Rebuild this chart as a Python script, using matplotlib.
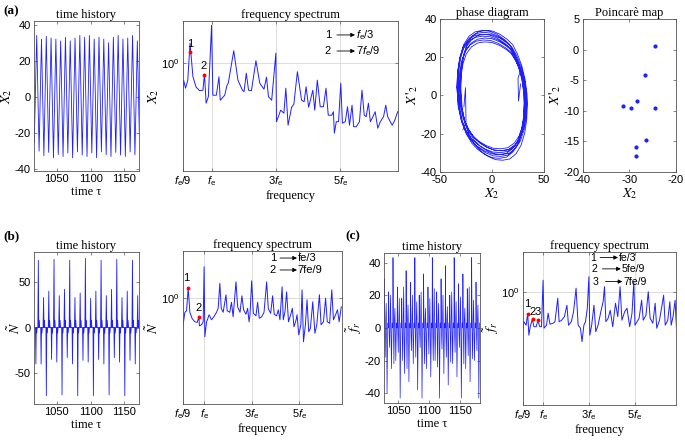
import numpy as np
import matplotlib
matplotlib.use("Agg")
import matplotlib.pyplot as plt

# === DATA ===
# (a) time history of X2 : peak / trough of each cycle
t0_a, period_a = 1020.0, 7.12
x2_peaks = [34, 32, 33.5, 32.6, 32, 31, 33, 31, 32.6, 34, 33, 34, 32, 33, 32, 30, 33, 34, 32, 32.6, 34, 31]
x2_troughs = [-30, -32.6, -30.7, -33.7, -31.9, -33, -31, -33.7, -30.4, -32.2, -33, -31,
              -33.7, -30.4, -32, -33, -30.7, -32.2, -33, -30.4, -32, -30.7]

# (a) spectrum of X2 (frequency in units of fe, log10 amplitude)
spec_a_f = [0.11, 0.13, 0.19, 0.26, 0.33, 0.42, 0.52, 0.63, 0.73, 0.78, 0.83, 0.90, 1.0, 1.04, 1.15,
            1.23, 1.27, 1.41, 1.48, 1.52, 1.69, 1.82, 1.96, 2.01, 2.08, 2.15, 2.24, 2.38, 2.5, 2.63,
            2.71, 2.77, 2.87, 3.0, 3.02, 3.15, 3.25, 3.31, 3.38, 3.49, 3.56, 3.67, 3.80, 3.88, 3.94,
            4.02, 4.15, 4.21, 4.29, 4.38, 4.48, 4.56, 4.63, 4.74, 4.79, 4.82, 4.88, 4.95, 5.02, 5.07,
            5.16, 5.23, 5.29, 5.37, 5.42, 5.5, 5.6, 5.68, 5.75, 5.81, 5.88, 5.94, 6.02, 6.09, 6.17,
            6.25, 6.35, 6.42, 6.48, 6.56, 6.62, 6.70, 6.79]
spec_a_lg = [-0.53, -0.35, -0.51, -0.35, 0.39, -0.28, -0.49, -0.56, -0.55, -0.23, -0.81, -0.68, 0.75,
             -0.65, -0.65, -0.28, -0.75, -0.65, -0.45, -0.41, 0.24, -0.35, -0.55, -0.58, -0.21, -0.55,
             -0.56, 0.04, -0.41, -0.53, -0.29, -0.68, -0.75, 0.19, -1.18, -0.95, -1.01, -0.51, -1.25,
             -0.89, -0.83, -0.18, -0.75, -0.78, -0.48, -0.89, -0.55, -0.95, -0.35, -0.88, -0.88, -0.51,
             -1.05, -1.05, -0.98, -1.41, -1.18, -1.18, -0.41, -1.21, -1.18, -0.88, -1.25, -0.85, -1.28,
             -1.28, -1.18, -0.55, -1.05, -1.08, -0.81, -1.18, -1.08, -0.98, -1.31, -1.18, -1.08, -0.85,
             -1.08, -1.18, -1.25, -1.15, -0.98]
mark_a_f = [1 / 3, 7 / 9]
mark_a_lg = [0.22, -0.25]

# phase diagram : one closed loop shape (normalised) and the velocity range of 9 loops
loop_u = [-1.00, -0.98, -0.92, -0.82, -0.66, -0.47, -0.26, -0.04, 0.18, 0.40, 0.56, 0.70, 0.83, 0.93,
          0.99, 1.00, 0.98, 0.92, 0.81, 0.66, 0.47, 0.26, 0.04, -0.18, -0.40, -0.58, -0.74, -0.87,
          -0.96, -1.00]
loop_v = [0.12, 0.38, 0.60, 0.78, 0.91, 0.98, 1.00, 0.99, 0.94, 0.86, 0.78, 0.64, 0.46, 0.25, 0.02,
          -0.15, -0.38, -0.58, -0.77, -0.90, -0.98, -1.00, -0.99, -0.94, -0.86, -0.76, -0.62, -0.44,
          -0.20, 0.12]
vel_top = [34, 33, 32, 31, 29, 34, 30, 32, 28]
vel_bot = [-34, -32, -31, -30, -28, -33, -29, -31, -29]
kink1_x, kink1_y = [28, 25, 25.5, 27.5], [14, 9, -3, 6]
kink2_x, kink2_y = [-28, -25, -25.5, -27], [-18, -14, 4, -6]

# Poincare map
poin_x = [-24.5, -26.6, -28.3, -31.4, -29.6, -24.6, -26.4, -28.5, -28.6]
poin_y = [0.5, -4.1, -8.5, -9.2, -9.6, -9.6, -14.8, -16.0, -17.4]

# (b) mesh force N : spike up / spike down per cycle
t0_b, period_b = 1013.9, 7.77
n_up = [8, 74, 33, 40, 75, 35, 42, 74, 33, 38, 76, 32, 40, 74, 35, 42, 75, 33, 40, 74, 35]
n_dn = [-40, -40, -75, -35, -38, -74, -33, -40, -75, -36, -38, -75, -35, -40, -74, -33, -38, -75,
        -36, -40, -74]
frac_b = [0.0, 0.10, 0.18, 0.26, 0.34, 0.55, 0.63, 0.71, 0.79, 0.87]
bump_b = [8, -6]

spec_b_f = [0.115, 0.19, 0.26, 0.33, 0.40, 0.50, 0.61, 0.71, 0.78, 0.80, 0.89, 0.96, 1.0, 1.03, 1.10,
            1.21, 1.31, 1.41, 1.52, 1.59, 1.66, 1.72, 1.80, 1.92, 1.97, 2.08, 2.15, 2.22, 2.34, 2.41,
            2.51, 2.59, 2.66, 2.76, 2.83, 2.89, 2.93, 3.0, 3.07, 3.18, 3.25, 3.32, 3.42, 3.52, 3.63,
            3.70, 3.80, 3.88, 3.95, 4.05, 4.12, 4.19, 4.28, 4.33, 4.40, 4.47, 4.55, 4.64, 4.71, 4.78,
            4.87, 4.91, 4.98, 5.07, 5.12, 5.18, 5.26, 5.33, 5.40, 5.47, 5.57, 5.66, 5.74, 5.85, 5.92,
            6.02, 6.11, 6.18, 6.28, 6.37, 6.44, 6.53, 6.61, 6.68, 6.77]
spec_b_lg = [-0.53, -0.28, -0.25, 0.21, -0.28, -0.41, -0.47, -0.48, -0.37, -0.55, -0.53, -0.47, 0.63,
             -0.77, -0.48, -0.33, -0.43, -0.37, -0.28, -0.20, 0.30, -0.20, -0.28, 0.07, -0.25, -0.28,
             -0.08, -0.37, 0.33, -0.17, -0.28, 0.05, -0.23, -0.32, -0.20, -0.47, -0.33, 0.35, -0.30,
             -0.35, -0.08, -0.40, -0.37, -0.28, 0.33, -0.21, -0.30, 0.05, -0.32, -0.35, -0.23, -0.43,
             0.23, -0.43, -0.27, 0.13, -0.47, -0.33, -0.20, -0.57, -0.43, -0.33, -0.73, -0.53, 0.17,
             -0.87, -0.53, -0.03, -0.67, -0.60, -0.07, -0.70, -0.53, 0.07, -0.53, -0.47, 0.0, -0.47,
             -0.50, 0.17, -0.43, -0.33, -0.23, -0.47, -0.17]
mark_b_f = [1 / 3, 7 / 9]
mark_b_lg = [0.21, -0.37]

# (c) friction force fr : big / medium excursions per cycle
t0_c, period_c = 1027.0, 7.1
fr_p = [30, 22, 43, 25, 18, 35, 28, 43, 20, 33, 25, 43, 22, 30, 38, 20, 43, 27, 33, 24, 43, 28]
fr_n = [-40, -25, -20, -43, -28, -33, -22, -38, -43, -25, -30, -20, -43, -28, -35, -22, -30, -43,
        -25, -33, -20, -43]
fr_q = [15, 20, 12, 18, 25, 14, 20, 16, 22, 12, 18, 24, 15, 20, 13, 22, 16, 19, 12, 25, 17, 14]
fr_m = [-18, -12, -22, -15, -20, -25, -14, -18, -12, -22, -16, -20, -24, -13, -18, -21, -15, -12,
        -22, -17, -19, -14]
frac_c = [0.0, 0.06, 0.16, 0.27, 0.38, 0.50, 0.61, 0.70, 0.85]
core_c = [-3, 4, -4, 3]

spec_c_f = [0.11, 0.16, 0.26, 0.33, 0.38, 0.44, 0.53, 0.60, 0.70, 0.78, 0.85, 0.93, 1.0, 1.04, 1.15,
            1.22, 1.30, 1.44, 1.52, 1.64, 1.70, 1.81, 1.93, 2.04, 2.11, 2.23, 2.33, 2.44, 2.53, 2.63,
            2.70, 2.78, 2.85, 2.93, 3.0, 3.04, 3.12, 3.22, 3.30, 3.40, 3.52, 3.62, 3.68, 3.74, 3.84,
            3.93, 4.04, 4.16, 4.26, 4.36, 4.44, 4.56, 4.66, 4.78, 4.88, 4.96, 5.01, 5.10, 5.19, 5.30,
            5.37, 5.49, 5.59, 5.67, 5.79, 5.89, 5.96, 6.08, 6.19, 6.26, 6.33, 6.44, 6.53, 6.59, 6.67,
            6.76, 6.82]
spec_c_lg = [-0.79, -0.60, -0.67, -0.44, -0.87, -0.70, -0.55, -0.70, -0.70, -0.57, -0.70, -0.70, 0.23,
             -0.73, -0.67, -0.43, -0.65, -0.63, -0.60, -0.13, -0.60, -0.57, -0.50, -0.27, -0.67, -0.60,
             -0.40, 0.07, -0.67, -0.73, -1.0, -0.67, -0.60, -0.33, 0.30, -0.87, -0.67, -0.27, -0.80,
             -0.67, -0.40, -0.20, 0.10, -0.60, -0.53, -0.37, -0.70, -0.23, -0.50, 0.10, -0.57, -0.40,
             -0.33, -0.70, -0.43, 0.20, -0.67, -0.60, -0.53, -0.17, -0.57, -0.47, 0.0, -0.53, -0.63,
             -0.23, -0.73, -0.57, -0.27, -0.07, -0.67, -0.57, -0.20, -0.67, -0.50, -0.17, -0.73]
mark_c_f = [1 / 3, 5 / 9, 7 / 9]
mark_c_lg = [-0.44, -0.55, -0.57]

freq_ticks = [1 / 9, 1, 3, 5]
freq_labels = [r'$f_\mathrm{e}$/9', r'$f_\mathrm{e}$', r'3$f_\mathrm{e}$', r'5$f_\mathrm{e}$']

# === STYLE ===
plt.rcParams['font.family'] = 'Liberation Sans'
plt.rcParams['mathtext.fontset'] = 'custom'
plt.rcParams['mathtext.rm'] = 'Liberation Sans'
plt.rcParams['mathtext.it'] = 'Liberation Sans:italic'
plt.rcParams['font.size'] = 8
plt.rcParams['axes.unicode_minus'] = False
plt.rcParams['axes.linewidth'] = 0.6
plt.rcParams['axes.edgecolor'] = '#555555'
for a in ('xtick', 'ytick'):
    plt.rcParams[a + '.direction'] = 'in'
    plt.rcParams[a + '.major.size'] = 2.5
    plt.rcParams[a + '.major.width'] = 0.5
    plt.rcParams[a + '.major.pad'] = 2.5
    plt.rcParams[a + '.color'] = '#555555'
    plt.rcParams[a + '.labelcolor'] = 'black'
    plt.rcParams[a + '.labelsize'] = 8
plt.rcParams['xtick.top'] = True
plt.rcParams['ytick.right'] = True

BLUE = '#1f1fff'
SERIF = 'Liberation Serif'
W, H = 685, 445


def box(x0, y0, x1, y1):
    return [x0 / W, 1 - y1 / H, (x1 - x0) / W, (y1 - y0) / H]


fig = plt.figure(figsize=(6.85, 4.45), dpi=100)


def titled(ax, title, xlabel, ylabel):
    ax.set_title(title, family=SERIF, fontsize=9, pad=2)
    ax.set_xlabel(xlabel, family=SERIF, fontsize=9, labelpad=1)
    ax.set_ylabel(ylabel, math_fontfamily='stix', fontsize=10, labelpad=0)


def time_axis(ax, t, v, xlim, ylim, yticks, ylabel, lw=0.6):
    ax.plot(t, v, color=BLUE, lw=lw)
    ax.set_xlim(*xlim)
    ax.set_ylim(*ylim)
    ax.set_xticks([1050, 1100, 1150])
    ax.set_yticks(yticks)
    titled(ax, 'time history', 'time \u03c4', ylabel)


def spectrum_axis(ax, f, lg, mf, mlg, ylim_lg, ylabel):
    ax.plot(f, 10 ** np.array(lg), color=BLUE, lw=0.7)
    ax.plot(mf, 10 ** np.array(mlg), 'o', color='red', ms=1.8)
    ax.set_yscale('log')
    ax.set_xlim(1 / 9, 6.8)
    ax.set_ylim(10 ** ylim_lg[0], 10 ** ylim_lg[1])
    ax.set_xticks(freq_ticks, labels=freq_labels)
    ax.set_yticks([1], labels=[r'$10^0$'])
    ax.yaxis.set_minor_locator(matplotlib.ticker.NullLocator())
    ax.grid(True, color='#d8d8d8', lw=0.6)
    ax.set_axisbelow(True)
    titled(ax, 'frequency spectrum', 'frequency', ylabel)


def legend_rows(ax, rows, size=8):
    for num, x_num, x0, x1, y, txt in rows:
        ax.text(x_num, y, num, transform=ax.transAxes, ha='center', va='center', fontsize=size)
        ax.annotate('', xy=(x1, y), xytext=(x0, y), xycoords='axes fraction',
                    arrowprops=dict(arrowstyle='-|>', color='black', lw=0.6,
                                    mutation_scale=6, shrinkA=0, shrinkB=0))
        ax.text(x1 + 0.005, y, txt, transform=ax.transAxes, ha='left', va='center', fontsize=size)


# ---- (a) time history
t_a, v_a = [t0_a - period_a / 2], [-25]
for k, (p, q) in enumerate(zip(x2_peaks, x2_troughs)):
    t_a += [t0_a + k * period_a, t0_a + (k + 0.5) * period_a]
    v_a += [p, q]
ax = fig.add_axes(box(34, 21, 139, 171))
time_axis(ax, t_a, v_a, (1016, 1172), (-41, 42), [-40, -20, 0, 20, 40], r'$X_2$')

# ---- (a) spectrum
ax = fig.add_axes(box(183, 21, 398, 171))
spectrum_axis(ax, spec_a_f, spec_a_lg, mark_a_f, mark_a_lg, (-2.166, 0.834), r'$X_2$')
ax.text(0.33, 10 ** 0.37, '1', ha='center', va='center')
ax.text(0.76, 10 ** -0.07, '2', ha='center', va='center')
legend_rows(ax, [('1', 0.674, 0.716, 0.80, 0.907, r'$f_\mathrm{e}$/3'),
                 ('2', 0.674, 0.716, 0.80, 0.80, r'7$f_\mathrm{e}$/9')])

# ---- phase diagram
ax = fig.add_axes(box(440, 19, 544, 171.7))
u = np.array(loop_u)
v = np.array(loop_v)
px, py = [], []
for k in range(len(vel_top)):
    lo, hi = x2_troughs[k], x2_peaks[k]
    px += list(lo + (u + 1) / 2 * (hi - lo))
    py += list(vel_bot[k] + (v + 1) / 2 * (vel_top[k] - vel_bot[k]))
ax.plot(px, py, color=BLUE, lw=0.6)
ax.plot(kink1_x, kink1_y, color=BLUE, lw=0.6)
ax.plot(kink2_x, kink2_y, color=BLUE, lw=0.6)
ax.set_xlim(-50, 50)
ax.set_ylim(-40, 40)
ax.set_xticks([-50, 0, 50])
ax.set_yticks([-40, -20, 0, 20, 40])
ax.set_title('phase diagram', family=SERIF, fontsize=9, pad=2)
ax.set_xlabel(r'$X_2$', math_fontfamily='stix', fontsize=10, labelpad=1)
ax.set_ylabel(r"$X\,'_2$", math_fontfamily='stix', fontsize=10, labelpad=0)

# ---- Poincare map
ax = fig.add_axes(box(582.7, 19, 676, 171.7))
ax.plot(poin_x, poin_y, 'o', color=BLUE, ms=2)
ax.set_xlim(-40, -20)
ax.set_ylim(-20, 5)
ax.set_xticks([-40, -30, -20])
ax.set_yticks([-20, -15, -10, -5, 0, 5])
ax.set_title('Poincar\u00e8 map', family=SERIF, fontsize=9, pad=2)
ax.set_xlabel(r'$X_2$', math_fontfamily='stix', fontsize=10, labelpad=1)
ax.set_ylabel(r"$X\,'_2$", math_fontfamily='stix', fontsize=10, labelpad=0)

# ---- (b) time history
t_b, v_b = [], []
for k, (p, q) in enumerate(zip(n_up, n_dn)):
    vals = [0, p, 0, bump_b[0], 0, 0, q, 0, bump_b[1], 0]
    t_b += [t0_b + (k + fr) * period_b for fr in frac_b]
    v_b += vals
ax = fig.add_axes(box(34, 252, 139, 404))
time_axis(ax, t_b, v_b, (1016, 1172), (-84, 83), [-50, 0, 50], r'$\tilde{N}$')
ax.yaxis.set_label_coords(-0.1, 0.5)

# ---- (b) spectrum
ax = fig.add_axes(box(183, 251, 342, 404))
spectrum_axis(ax, spec_b_f, spec_b_lg, mark_b_f, mark_b_lg, (-2.114, 0.946), r'$\tilde{N}$')
ax.text(0.26, 10 ** 0.40, '1', ha='center', va='center')
ax.text(0.75, 10 ** -0.19, '2', ha='center', va='center')
legend_rows(ax, [('1', 0.566, 0.61, 0.717, 0.954, 'fe/3'),
                 ('2', 0.566, 0.61, 0.717, 0.876, '7fe/9')])

# ---- (c) time history
t_c, v_c = [], []
for k in range(len(fr_p)):
    vals = [0, fr_p[k], core_c[0], fr_m[k], core_c[1], fr_q[k], core_c[2], fr_n[k], core_c[3]]
    t_c += [t0_c + (k + fr) * period_c for fr in frac_c]
    v_c += vals
ax = fig.add_axes(box(384, 252.7, 480, 403))
time_axis(ax, t_c, v_c, (1027, 1183), (-46, 46), [-40, -20, 0, 20, 40], r'$\tilde{f}_r$', lw=0.5)

# ---- (c) spectrum
ax = fig.add_axes(box(522.7, 251.7, 676, 405))
spectrum_axis(ax, spec_c_f, spec_c_lg, mark_c_f, mark_c_lg, (-2.266, 0.8), r'$\tilde{f}_r$')
ax.text(0.30, 10 ** -0.25, '1', ha='center', va='center')
ax.text(0.53, 10 ** -0.41, '2', ha='center', va='center')
ax.text(0.78, 10 ** -0.41, '3', ha='center', va='center')
legend_rows(ax, [('1', 0.459, 0.505, 0.622, 0.962, 'fe/3'),
                 ('2', 0.466, 0.52, 0.64, 0.888, '5fe/9'),
                 ('3', 0.472, 0.54, 0.65, 0.805, '7fe/9')], size=7.6)

# panel labels
for lbl, x, y in [('(a)', 3, 11), ('(b)', 3, 236), ('(c)', 345, 236)]:
    fig.text(x / W, 1 - y / H, lbl, family=SERIF, weight='bold', fontsize=9.5, va='center')

fig.savefig('out.png', dpi=100)
